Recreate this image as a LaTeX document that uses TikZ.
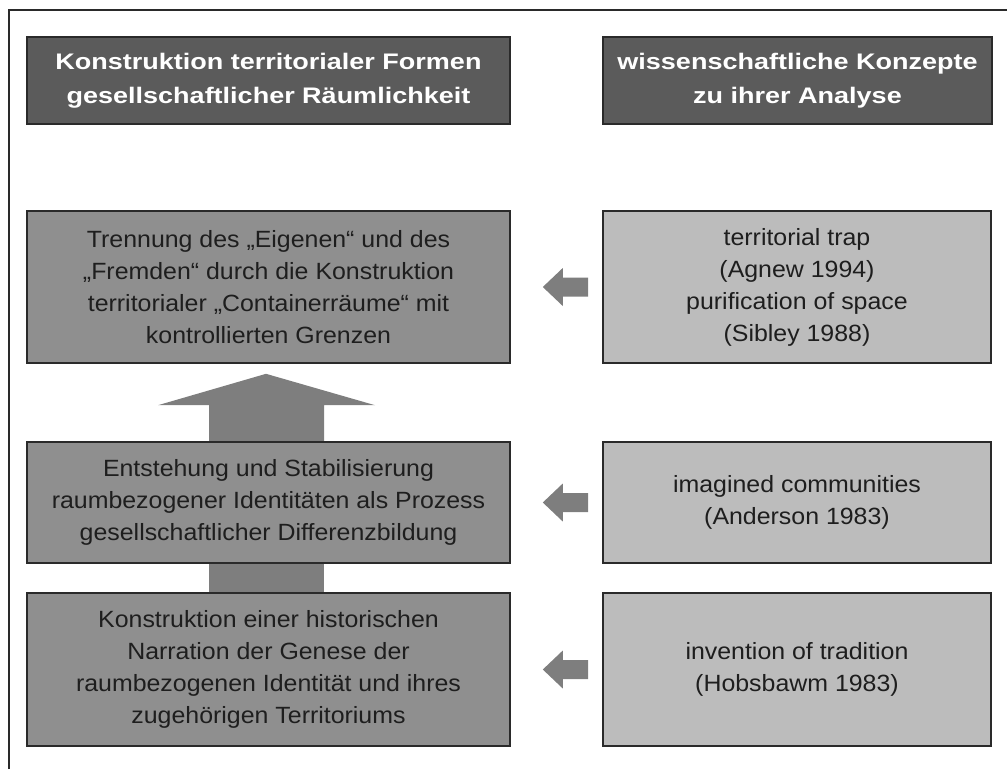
\documentclass[tikz,border=0pt]{standalone}
\usepackage{fontspec}
\setmainfont{Liberation Sans}
\newfontfamily\headfont[FakeStretch=1.2]{Liberation Sans}
\newfontfamily\bodyfont[FakeStretch=1.06]{Liberation Sans}
\usetikzlibrary{calc,backgrounds}
\definecolor{headfill}{HTML}{5B5B5B}
\definecolor{leftfill}{HTML}{8F8F8F}
\definecolor{rightfill}{HTML}{BCBCBC}
\definecolor{arrowfill}{HTML}{7E7E7E}
\definecolor{edge}{HTML}{2A2A2A}
\definecolor{ink}{HTML}{1E1E1E}
\begin{document}
\begin{tikzpicture}[x=1pt,y=-1pt,
  headbox/.style={draw=edge, line width=1.6pt, fill=headfill, text=white,
    align=center, inner sep=0pt, minimum height=87pt,
    font=\headfont\fontsize{22.5}{34}\selectfont\bfseries},
  leftbox/.style={draw=edge, line width=1.6pt, fill=leftfill, text=ink,
    align=center, inner sep=0pt, minimum width=483pt,
    font=\bodyfont\fontsize{23.5}{32}\selectfont},
  rightbox/.style={draw=edge, line width=1.6pt, fill=rightfill, text=ink,
    align=center, inner sep=0pt, minimum width=388pt,
    font=\bodyfont\fontsize{23.5}{32}\selectfont},
  flowarrow/.style={fill=arrowfill}]
\useasboundingbox (0,0) rectangle (1007,769);

% outer frame (top and left edges)
\draw[line width=1.6pt, edge] (9,769) -- (9,10) -- (1007,10);

% column headings
\node[headbox, minimum width=483pt] (hl) at (268.5,80.5)
  {Konstruktion territorialer Formen\\gesellschaftlicher Räumlichkeit};
\node[headbox, minimum width=389pt] (hr) at (797.5,80.5)
  {wissenschaftliche Konzepte\\zu ihrer Analyse};

% left column: forms of spatiality
\node[leftbox, minimum height=152pt] (l1) at (268.5,287)
  {Trennung des „Eigenen“ und des\\„Fremden“ durch die Konstruktion\\territorialer „Containerräume“ mit\\kontrollierten Grenzen};
\node[leftbox, minimum height=121pt] (l2) at (268.5,502.5)
  {Entstehung und Stabilisierung\\raumbezogener Identitäten als Prozess\\gesellschaftlicher Differenzbildung};
\node[leftbox, minimum height=153pt] (l3) at (268.5,669.5)
  {Konstruktion einer historischen\\Narration der Genese der\\raumbezogenen Identität und ihres\\zugehörigen Territoriums};

% right column: analytical concepts
\node[rightbox, minimum height=152pt] (r1) at (797,287)
  {territorial trap\\(Agnew 1994)\\purification of space\\(Sibley 1988)};
\node[rightbox, minimum height=121pt] (r2) at (797,502.5)
  {imagined communities\\(Anderson 1983)};
\node[rightbox, minimum height=153pt] (r3) at (797,669.5)
  {invention of tradition\\(Hobsbawm 1983)};

\begin{pgfonlayer}{background}
  % upward arrow from l2 to l1
  \fill[flowarrow] ($(l2.north)+(-59.5,0)$) -- ++(0,-36) -- ++(-51,0)
    -- ($(l1.south)+(-2.5,10)$) -- ($(l2.north)+(106.5,-36)$)
    -- ++(-51,0) -- ++(0,36) -- cycle;
  % shaft between l3 and l2
  \fill[flowarrow] ($(l3.north)+(-59.5,0)$) rectangle ($(l2.south)+(55,0)$);
  % leftward arrows from concepts to forms
  \foreach \a/\b in {l1/r1,l2/r2,l3/r3}{
    \fill[flowarrow] ($(\a.east)+(32,0)$) -- ++(20,-19) -- ++(0,9.5)
      -- ($(\b.west)+(-14,-9.5)$) -- ++(0,19) -- ($(\a.east)+(52,9.5)$)
      -- ++(0,9.5) -- cycle;
  }
\end{pgfonlayer}
\end{tikzpicture}
\end{document}
